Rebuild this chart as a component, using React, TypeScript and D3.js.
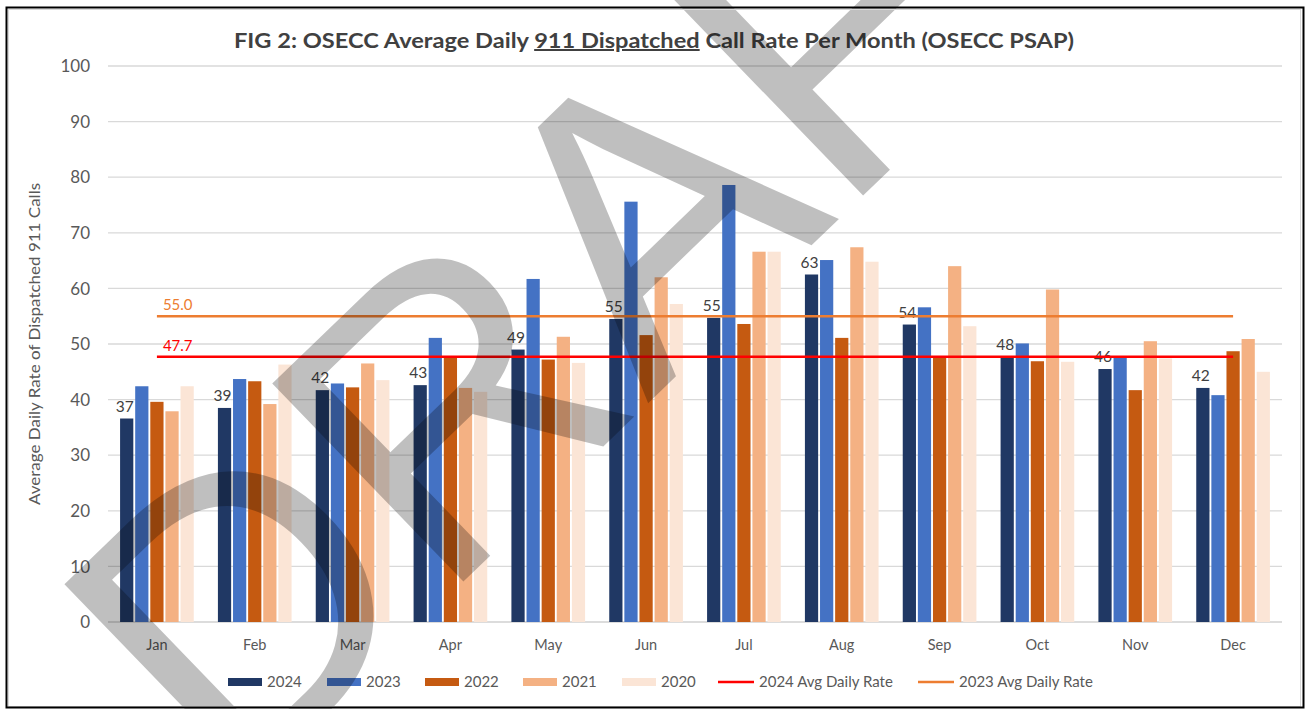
import React from "react"
import * as d3 from "d3"

const months = ["Jan", "Feb", "Mar", "Apr", "May", "Jun", "Jul", "Aug", "Sep", "Oct", "Nov", "Dec"]
const years = ["2024", "2023", "2022", "2021", "2020"]
const v2024 = [36.6, 38.5, 41.7, 42.6, 49.0, 54.5, 54.7, 62.5, 53.5, 47.6, 45.5, 42.1]
const v2023 = [42.4, 43.7, 42.9, 51.1, 61.7, 75.6, 78.6, 65.1, 56.6, 50.1, 47.6, 40.8]
const v2022 = [39.6, 43.3, 42.2, 47.6, 47.2, 51.6, 53.6, 51.1, 47.7, 46.9, 41.7, 48.7]
const v2021 = [37.9, 39.2, 46.5, 42.1, 51.3, 62.0, 66.6, 67.4, 64.0, 59.8, 50.5, 50.9]
const v2020 = [42.4, 46.3, 43.5, 41.4, 46.6, 57.2, 66.6, 64.8, 53.2, 46.8, 47.4, 45.0]
const avg2024 = 47.7
const avg2023 = 55.0
const yTicks = [0, 10, 20, 30, 40, 50, 60, 70, 80, 90, 100]

const series = [v2024, v2023, v2022, v2021, v2020]
const colors = ["#203864", "#4472C4", "#C55A11", "#F4B183", "#FBE5D6"]

const W = 1307
const H = 709
const font = "Lato, 'Open Sans', sans-serif"

export default function App() {
  const x = d3.scaleBand().domain(months).range([108, 1282]).padding(0)
  const groupW = x.bandwidth() * 0.753
  const xi = d3.scaleBand().domain(years).range([0, groupW]).paddingInner(0.125)
  const y = d3.scaleLinear().domain([0, 100]).range([622, 66])

  const cx = (m: string) => (x(m) || 0) + x.bandwidth() / 2
  const lineX1 = cx(months[0])
  const lineX2 = cx(months[months.length - 1])

  const legendItems = [
    { label: "2024", color: colors[0], type: "rect", x: 228 },
    { label: "2023", color: colors[1], type: "rect", x: 327 },
    { label: "2022", color: colors[2], type: "rect", x: 425 },
    { label: "2021", color: colors[3], type: "rect", x: 523 },
    { label: "2020", color: colors[4], type: "rect", x: 622 },
    { label: "2024 Avg Daily Rate", color: "#FF0000", type: "line", x: 718 },
    { label: "2023 Avg Daily Rate", color: "#ED7D31", type: "line", x: 918 },
  ]

  return (
    <svg width={W} height={H} style={{ position: "absolute", left: 0, top: 0, background: "#fff" }} fontFamily={font}>
      <rect x={0} y={0} width={W} height={H} fill="#fff" />
      {/* gridlines */}
      {yTicks.map((t) => (
        <g key={t}>
          <line x1={108} x2={1282} y1={y(t)} y2={y(t)} stroke={t === 0 ? "#D0D0D0" : "#D9D9D9"} strokeWidth={1.3} />
          <text x={90} y={y(t)} dy="0.36em" textAnchor="end" fontSize={17} fill="#595959">{t}</text>
        </g>
      ))}

      {/* bars */}
      {months.map((m, i) => (
        <g key={m} transform={`translate(${cx(m) - groupW / 2},0)`}>
          {series.map((s, j) => (
            <rect key={j} x={xi(years[j])} y={y(s[i])} width={xi.bandwidth()} height={y(0) - y(s[i])} fill={colors[j]} />
          ))}
          <text x={(xi(years[0]) || 0) + xi.bandwidth() / 2 - 2} y={y(v2024[i]) - 7} textAnchor="middle" fontSize={15.5} fill="#404040">
            {Math.round(v2024[i])}
          </text>
          <text x={groupW / 2} y={650} textAnchor="middle" fontSize={14.5} fill="#595959">{m}</text>
        </g>
      ))}

      {/* average lines */}
      <line x1={lineX1} x2={lineX2} y1={y(avg2023)} y2={y(avg2023)} stroke="#ED7D31" strokeWidth={2.5} />
      <text x={lineX1 + 6} y={y(avg2023) - 6} fontSize={15} fill="#ED7D31">{avg2023.toFixed(1)}</text>
      <line x1={lineX1} x2={lineX2} y1={y(avg2024)} y2={y(avg2024)} stroke="#FF0000" strokeWidth={2.5} />
      <text x={lineX1 + 6} y={y(avg2024) - 6} fontSize={15} fill="#FF0000">{avg2024.toFixed(1)}</text>

      {/* title */}
      <text x={654} y={48} textAnchor="middle" fontSize={20} fontWeight="bold" fill="#404040" textLength={840} lengthAdjust="spacingAndGlyphs">
        FIG 2: OSECC Average Daily <tspan textDecoration="underline">911 Dispatched</tspan> Call Rate Per Month (OSECC PSAP)
      </text>

      {/* y axis title */}
      <text transform={`translate(40,${y(50)}) rotate(-90)`} textAnchor="middle" fontSize={15.5} fill="#595959" textLength={322} lengthAdjust="spacingAndGlyphs">
        Average Daily Rate of Dispatched  911 Calls
      </text>

      {/* legend */}
      {legendItems.map((d) => (
        <g key={d.label} transform={`translate(${d.x},682)`}>
          {d.type === "rect" ? (
            <rect x={0} y={-4} width={34} height={8} fill={d.color} />
          ) : (
            <line x1={0} x2={36} y1={0} y2={0} stroke={d.color} strokeWidth={2.5} />
          )}
          <text x={d.type === "rect" ? 39 : 41} y={0} dy="0.36em" fontSize={15} fill="#595959">{d.label}</text>
        </g>
      ))}

      {/* watermark */}
      <text transform="translate(232,805) rotate(-44)" fontSize={400} fontFamily="'Liberation Sans', Arial, sans-serif" fill="#000" fillOpacity={0.25}>
        DRAFT
      </text>

      {/* frame */}
      <rect x={8.5} y={9.5} width={1292} height={697} fill="none" stroke="#D9D9D9" strokeWidth={1} />
      <rect x={6.5} y={7.5} width={1297} height={700} fill="none" stroke="#000" strokeWidth={2} />
    </svg>
  )
}
